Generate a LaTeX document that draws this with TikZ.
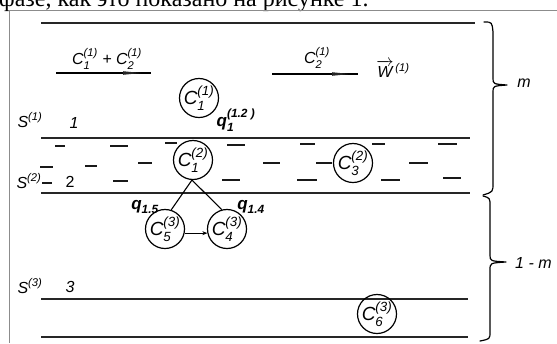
\documentclass[tikz,border=0pt]{standalone}
\usepackage{fontspec}
\usepackage{amsmath}
\setmainfont{Liberation Sans}
\newfontfamily\rusfont{Liberation Serif}
\usetikzlibrary{arrows.meta}
\newcommand{\tx}[1]{\text{\itshape #1}}
\newcommand{\Cn}[2]{$\tx{C}_{\tx{#1}}^{\tx{(#2)}}$}
\begin{document}
\begin{tikzpicture}[x=1pt,y=-1pt,
  layer/.style={line width=1.3pt, draw=black!85},
  dashline/.style={line width=1.2pt, draw=black!90},
  state/.style={circle, draw, line width=1.2pt, minimum size=33pt, inner sep=0pt, font=\fontsize{19}{19}\selectfont},
  lbl/.style={font=\fontsize{16}{16}\selectfont\itshape, inner sep=0pt},
  qlbl/.style={font=\fontsize{17}{17}\selectfont\itshape\bfseries, inner sep=0pt},
  frameline/.style={draw=black!45, line width=0.8pt},
  flow/.style={line width=1.1pt},
  head/.style={fill=black!85},
  bracestyle/.style={line width=1.2pt, line cap=round, line join=round}]
\useasboundingbox (0,0) rectangle (557,343);
\clip (0,0) rectangle (557,343);
% cut-off text line at top
\node[anchor=base west, inner sep=0pt, font=\rusfont\fontsize{24}{24}\selectfont] (rus) at (-1,6) {фазе, как это показано на рисунке 1.};
% frame
\coordinate (f1) at (557,10);
\coordinate (f2) at (9,10);
\coordinate (f3) at (9,343);
\draw[frameline] (f1) -- (f2) -- (f3);
% layer lines
\draw[layer] (41,23) -- (475,23);
\draw[layer] (41,138) -- (470,138);
\draw[layer] (41,193) -- (470,193);
\draw[layer] (41,299) -- (468,299);
\draw[layer] (41,337) -- (468,337);
% flow arrows
\coordinate (a1s) at (56,73);
\coordinate (a1e) at (151,73);
\draw[flow] (a1s) -- (a1e);
\fill[head] (123,71.2) -- (141,73) -- (123,74.8) -- cycle;
\coordinate (a2s) at (272,74);
\coordinate (a2e) at (358,74);
\draw[flow] (a2s) -- (a2e);
\fill[head] (332,72.2) -- (350,74) -- (332,75.8) -- cycle;
\node[lbl] (l12) at (107,59) {\Cn{1}{1} + \Cn{2}{1}};
\node[lbl] (l2) at (317,58) {\Cn{2}{1}};
\node[lbl] (w) at (393,69) {$\overrightarrow{\tx{W}}^{\,\tx{(1)}}$};
% dashes in layer 2
\foreach \xa/\xb/\yy in {55/65/146, 110/128/146, 165/177/143, 227/245/145,
  300/315/144, 372/385/144, 438/457/144,
  40/53/167, 85/97/166, 138/152/163, 263/280/163, 316/332/163, 409/428/163,
  42/52/183, 113/128/181, 222/240/180, 297/317/180, 381/400/180, 443/461/178}
  \draw[dashline] (\xa,\yy) -- (\xb,\yy);
% states
\node[state] (c11) at (199,98) {\Cn{1}{1}};
\node[state, fill=white] (c12) at (193,160) {\Cn{1}{2}};
\node[state, fill=white] (c32) at (353,163) {\Cn{3}{2}};
\node[state] (c53) at (165,229) {\Cn{5}{3}};
\node[state] (c43) at (227,229) {\Cn{4}{3}};
\node[state, minimum size=31pt] (c63) at (377,314) {\Cn{6}{3}};
\draw[flow] (c12.-93) -- (c53.72);
\draw[flow] (c12.-93) -- (c43.105);
\draw[flow, -{Stealth[length=5pt,width=4pt]}] (c53.-12) -- (c43.192);
% labels
\node[lbl] (s1) at (30,120) {S$^{\tx{(1)}}$};
\node[lbl] (n1) at (74,123) {1};
\node[lbl] (s2) at (29,181) {S$^{\tx{(2)}}$};
\node[lbl, font=\fontsize{16}{16}\selectfont] (n2) at (70,182) {2};
\node[lbl] (s3) at (30,286) {S$^{\tx{(3)}}$};
\node[lbl] (n3) at (70,287) {3};
\node[qlbl] (q12) at (236,120) {$\tx{q}_{\tx{1}}^{\tx{(1.2 )}}$};
\node[qlbl] (q15) at (145,207) {$\tx{q}_{\tx{1.5}}$};
\node[qlbl] (q14) at (251,207) {$\tx{q}_{\tx{1.4}}$};
% braces
\draw[bracestyle] (484,22) .. controls (492,22) .. (493,32) -- (493,78) .. controls (493,84) .. (507,85) .. controls (493,86) .. (493,92) -- (493,183) .. controls (493,192) .. (483,195);
\draw[bracestyle] (483,196) .. controls (490,198) .. (490,206) -- (490,255) .. controls (490,261) .. (506,262) .. controls (490,263) .. (490,270) -- (490,332) .. controls (490,339) .. (480,341);
\node[lbl] (m) at (524,83) {m};
\node[lbl, anchor=west] (om) at (515,263) {1 - m};
\end{tikzpicture}
\end{document}
